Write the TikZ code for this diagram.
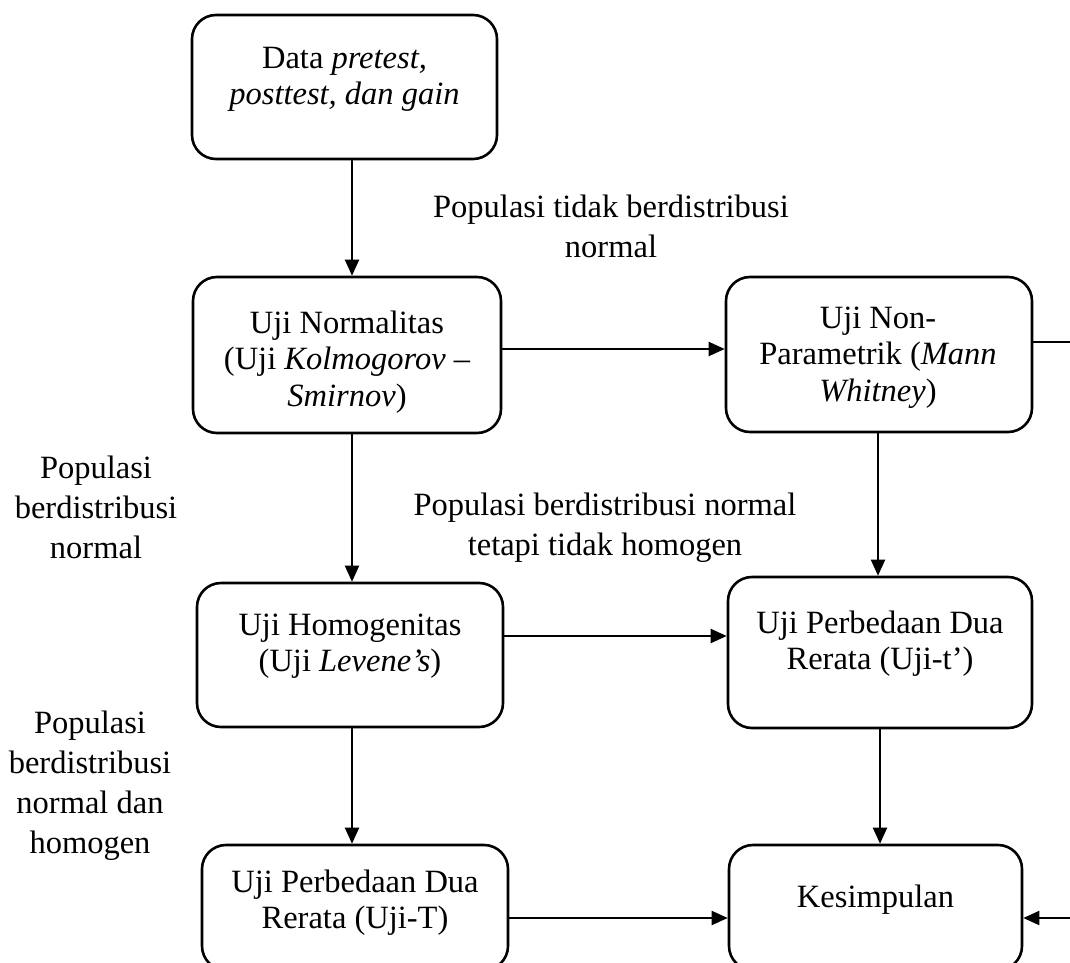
\documentclass[tikz,border=0pt]{standalone}
\usepackage{fontspec}
\setmainfont{Liberation Serif}
\usetikzlibrary{arrows.meta}
\tikzset{
  box/.style={draw, line width=2.6pt, rounded corners=24pt, inner sep=0pt},
  boxtext/.style={anchor=north, align=center, inner sep=0pt, font=\fontsize{32.5}{36.5}\selectfont},
  lbl/.style={anchor=north, align=center, inner sep=0pt, font=\fontsize{32.5}{40}\selectfont},
  conn/.style={line width=2pt},
  arr/.style={line width=2pt, -{Triangle[length=16pt,width=14pt]}},
}
\begin{document}
\begin{tikzpicture}[x=1pt,y=-1pt]
\useasboundingbox (0,0) rectangle (1070,963);
% boxes
\node[box, minimum width=305pt, minimum height=144pt] (data) at (344.5,87) {};
\node[box, minimum width=308pt, minimum height=156pt] (norm) at (347,355) {};
\node[box, minimum width=306pt, minimum height=155pt] (nonpar) at (879,354.5) {};
\node[box, minimum width=306pt, minimum height=144pt] (homog) at (350,655) {};
\node[box, minimum width=304pt, minimum height=151pt] (ujit2) at (880,652.5) {};
\node[box, minimum width=306pt, minimum height=125pt] (ujiT) at (355,907.5) {};
\node[box, minimum width=293pt, minimum height=125pt] (kesim) at (875.5,907.5) {};
% box texts
\node[boxtext] (tdata) at (344.5,42.45) {\strut Data \textit{pretest,}\\\textit{posttest, dan gain}};
\node[boxtext] (tnorm) at (347,307.45) {\strut Uji Normalitas\\(Uji \textit{Kolmogorov} --\\\textit{Smirnov})};
\node[boxtext] (tnonpar) at (878,302.45) {\strut Uji Non-\\Parametrik (\textit{Mann}\\\textit{Whitney})};
\node[boxtext] (thomog) at (350,609.45) {\strut Uji Homogenitas\\(Uji \textit{Levene's})};
\node[boxtext] (tujit2) at (880,607.45) {\strut Uji Perbedaan Dua\\Rerata (Uji-t')};
\node[boxtext] (tujiT) at (355,866.45) {\strut Uji Perbedaan Dua\\Rerata (Uji-T)};
\node[boxtext] (tkesim) at (875.5,881.45) {\strut Kesimpulan};
% labels
\node[lbl] (l1) at (611,189) {\strut Populasi tidak berdistribusi\\normal};
\node[lbl] (l2) at (96,450) {\strut Populasi\\berdistribusi\\normal};
\node[lbl] (l3) at (605,487) {\strut Populasi berdistribusi normal\\tetapi tidak homogen};
\node[lbl] (l4) at (90,705) {\strut Populasi\\berdistribusi\\normal dan\\homogen};
% helper coordinates
\coordinate (lx) at (352,0);
\coordinate (rx1) at (878,0);
\coordinate (rx2) at (880,0);
\coordinate (ya) at (0,349);
\coordinate (yb) at (0,636);
\coordinate (yc) at (0,918);
\coordinate (edgeA) at (1070,342);
\coordinate (edgeB) at (1070,918);
% connectors
\draw[arr] (data.south -| lx) -- (norm.north -| lx);
\draw[arr] (norm.south -| lx) -- (homog.north -| lx);
\draw[arr] (homog.south -| lx) -- (ujiT.north -| lx);
\draw[arr] (norm.east |- ya) -- (nonpar.west |- ya);
\draw[conn] (nonpar.east |- edgeA) -- (edgeA);
\draw[arr] (nonpar.south -| rx1) -- (ujit2.north -| rx1);
\draw[arr] (homog.east |- yb) -- (ujit2.west |- yb);
\draw[arr] (ujit2.south -| rx2) -- (kesim.north -| rx2);
\draw[arr] (ujiT.east |- yc) -- (kesim.west |- yc);
\draw[arr] (edgeB) -- (kesim.east |- edgeB);
\end{tikzpicture}
\end{document}
